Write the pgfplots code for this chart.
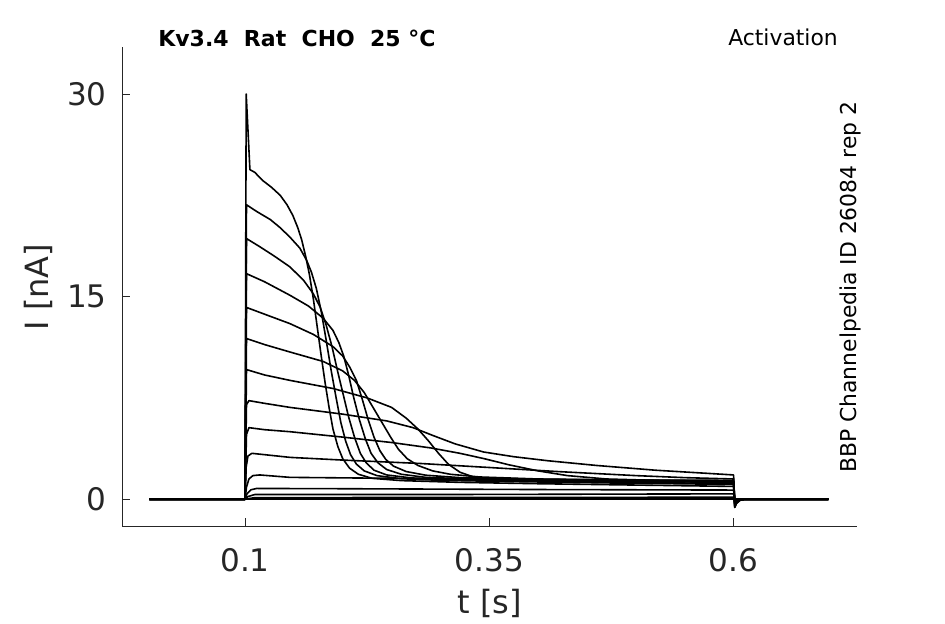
\documentclass[border=0pt]{standalone}
\usepackage{pgfplots}
\pgfplotsset{compat=1.18}
\usepackage{fontspec}
\setmainfont{DejaVu Sans}
\definecolor{axgray}{rgb}{0.15,0.15,0.15}
\tikzset{tr/.style={draw=black, line width=1.2pt, mark=none, solid, line join=round}}
\begin{document}
\begin{tikzpicture}
\path[use as bounding box] (-91.725pt,-73.5pt) rectangle (617.025pt,394.5pt);
\begin{axis}[
  at={(0,0)}, anchor=south west,
  width=550.8pt, height=359.25pt, scale only axis,
  xmin=-0.0256, xmax=0.726, ymin=-1.98, ymax=33.48,
  axis x line*=bottom, axis y line*=left,
  axis line style={-, draw=axgray, line width=0.75pt},
  tick align=inside, major tick length=5.8pt,
  tick style={draw=axgray, line width=0.75pt},
  xtick={0.1,0.35,0.6}, xticklabels={0.1,0.35,0.6},
  ytick={0,15,30}, yticklabels={0,15,30},
  xticklabel style={font=\fontsize{23.3}{27}\selectfont, text=axgray, anchor=north, inner sep=0pt, yshift=-16.5pt},
  yticklabel style={font=\fontsize{23.3}{27}\selectfont, text=axgray, anchor=east, inner sep=0pt, xshift=-11.5pt},
]
% K1
\addplot[tr] coordinates {(0.002,0) (0.1,0) (0.1012,30) (0.105,24.4) (0.11,24.2) (0.118,23.6) (0.127,23.1) (0.136,22.5) (0.143,21.8) (0.149,21.0) (0.154,20.1) (0.158,19.2) (0.162,18.0) (0.166,16.6) (0.170,14.8) (0.174,12.7) (0.178,10.6) (0.182,8.6) (0.186,6.8) (0.190,5.2) (0.195,3.9) (0.200,3.0) (0.207,2.3) (0.216,1.85) (0.23,1.55) (0.26,1.38) (0.32,1.25) (0.4,1.15) (0.5,1.05) (0.6,0.95) (0.6012,-0.6) (0.603,-0.3) (0.607,-0.05) (0.612,0) (0.697,0)};
% K2
\addplot[tr] coordinates {(0.002,0) (0.1,0) (0.1015,21.8) (0.112,21.3) (0.126,20.7) (0.136,20.1) (0.146,19.4) (0.156,18.6) (0.163,17.7) (0.168,16.8) (0.173,15.6) (0.178,13.9) (0.183,11.8) (0.188,9.6) (0.193,7.6) (0.198,5.7) (0.203,4.3) (0.208,3.3) (0.214,2.6) (0.222,2.1) (0.235,1.75) (0.26,1.52) (0.3,1.4) (0.38,1.3) (0.48,1.2) (0.6,1.1) (0.6012,-0.6) (0.603,-0.3) (0.607,-0.05) (0.612,0) (0.697,0)};
% K3
\addplot[tr] coordinates {(0.002,0) (0.1,0) (0.1015,19.3) (0.115,18.7) (0.13,18.0) (0.146,17.2) (0.16,16.2) (0.17,15.2) (0.177,14.2) (0.183,12.9) (0.189,11.3) (0.195,9.4) (0.200,7.9) (0.206,6.1) (0.212,4.6) (0.218,3.4) (0.224,2.7) (0.232,2.15) (0.245,1.8) (0.27,1.58) (0.31,1.45) (0.4,1.35) (0.5,1.25) (0.6,1.15) (0.6012,-0.5) (0.603,-0.25) (0.607,-0.05) (0.612,0) (0.697,0)};
% K4
\addplot[tr] coordinates {(0.002,0) (0.1,0) (0.1015,16.7) (0.12,16.1) (0.146,15.1) (0.165,14.3) (0.18,13.4) (0.19,12.5) (0.196,11.6) (0.201,10.6) (0.206,9.2) (0.211,7.6) (0.217,5.9) (0.223,4.5) (0.229,3.4) (0.236,2.7) (0.245,2.2) (0.26,1.85) (0.285,1.62) (0.33,1.5) (0.42,1.4) (0.5,1.33) (0.6,1.25) (0.6012,-0.5) (0.603,-0.25) (0.607,-0.05) (0.612,0) (0.697,0)};
% K5
\addplot[tr] coordinates {(0.002,0) (0.1,0) (0.1015,14.2) (0.12,13.7) (0.146,13.0) (0.17,12.2) (0.19,11.3) (0.2,10.6) (0.207,9.8) (0.214,8.8) (0.220,7.4) (0.226,5.9) (0.232,4.6) (0.238,3.6) (0.244,2.95) (0.252,2.45) (0.265,2.05) (0.285,1.78) (0.32,1.6) (0.4,1.48) (0.5,1.38) (0.6,1.3) (0.6012,-0.45) (0.603,-0.2) (0.607,-0.05) (0.612,0) (0.697,0)};
% K6
\addplot[tr] coordinates {(0.002,0) (0.1,0) (0.1015,11.9) (0.12,11.45) (0.146,10.9) (0.18,10.2) (0.2,9.5) (0.212,8.8) (0.222,7.9) (0.231,6.8) (0.24,5.7) (0.249,4.6) (0.257,3.7) (0.266,3.0) (0.277,2.5) (0.292,2.1) (0.31,1.85) (0.34,1.65) (0.4,1.5) (0.5,1.42) (0.6,1.35) (0.6012,-0.4) (0.603,-0.2) (0.607,-0.05) (0.612,0) (0.697,0)};
% K7
\addplot[tr] coordinates {(0.002,0) (0.1,0) (0.1015,9.6) (0.12,9.2) (0.146,8.8) (0.19,8.2) (0.225,7.5) (0.25,6.8) (0.265,6.0) (0.277,5.2) (0.288,4.3) (0.298,3.4) (0.308,2.6) (0.32,2.0) (0.335,1.62) (0.36,1.45) (0.42,1.38) (0.5,1.32) (0.6,1.25) (0.6012,-0.35) (0.604,-0.1) (0.61,0) (0.697,0)};
% G1
\addplot[tr] coordinates {(0.002,0) (0.1,0) (0.1015,7.0) (0.104,7.3) (0.12,7.1) (0.146,6.8) (0.2,6.3) (0.245,5.8) (0.272,5.3) (0.293,4.7) (0.315,4.1) (0.344,3.5) (0.375,3.15) (0.41,2.85) (0.46,2.5) (0.52,2.15) (0.6,1.8) (0.6012,-0.3) (0.604,-0.1) (0.61,0) (0.697,0)};
% G2
\addplot[tr] coordinates {(0.002,0) (0.1,0) (0.1015,4.8) (0.104,5.3) (0.12,5.15) (0.146,5.0) (0.2,4.6) (0.25,4.2) (0.29,3.8) (0.32,3.4) (0.345,3.0) (0.37,2.55) (0.4,2.1) (0.43,1.75) (0.47,1.5) (0.52,1.4) (0.6,1.32) (0.6012,-0.25) (0.604,-0.08) (0.61,0) (0.697,0)};
% G3
\addplot[tr] coordinates {(0.002,0) (0.1,0) (0.1012,2.4) (0.103,3.2) (0.107,3.4) (0.12,3.3) (0.146,3.1) (0.2,2.9) (0.279,2.65) (0.35,2.35) (0.42,2.05) (0.5,1.75) (0.55,1.6) (0.6,1.5) (0.6012,-0.2) (0.604,-0.05) (0.61,0) (0.697,0)};
% G4
\addplot[tr] coordinates {(0.002,0) (0.1,0) (0.1015,0.9) (0.104,1.5) (0.108,1.75) (0.115,1.8) (0.146,1.62) (0.25,1.55) (0.4,1.47) (0.5,1.42) (0.6,1.4) (0.6012,-0.1) (0.604,0) (0.697,0)};
% G5
\addplot[tr] coordinates {(0.002,0) (0.1,0) (0.102,0.4) (0.106,0.7) (0.112,0.8) (0.2,0.78) (0.4,0.72) (0.6,0.68) (0.601,0) (0.697,0)};
% G6
\addplot[tr] coordinates {(0.002,0) (0.1,0) (0.103,0.2) (0.11,0.35) (0.3,0.35) (0.6,0.4) (0.601,0) (0.697,0)};
% G7
\addplot[tr] coordinates {(0.002,0) (0.1,0) (0.11,0.12) (0.6,0.15) (0.601,0) (0.697,0)};
% G8
\addplot[tr, line width=1.6pt] coordinates {(0.002,0) (0.697,0)};
\end{axis}
\node[anchor=base, rotate=90, inner sep=0pt, text=axgray, font=\fontsize{24}{28}\selectfont] at (-54.975pt,179.25pt) {I [nA]};
\node[anchor=base, inner sep=0pt, text=axgray, font=\fontsize{24}{28}\selectfont] at (275.4pt,-66pt) {t [s]};
\node[anchor=base west, inner sep=0pt, font=\bfseries\fontsize{16.5}{19}\selectfont] at (26.8pt,359.25pt) {Kv3.4\ \ Rat\ \ CHO\ \ 25 °C};
\node[anchor=base east, inner sep=0pt, font=\fontsize{16.4}{19}\selectfont] at (536.8pt,360pt) {Activation};
\node[anchor=base west, rotate=90, inner sep=0pt, font=\fontsize{16.4}{19}\selectfont] at (550.8pt,39.75pt) {BBP Channelpedia ID 26084 rep 2};
\end{tikzpicture}
\end{document}
